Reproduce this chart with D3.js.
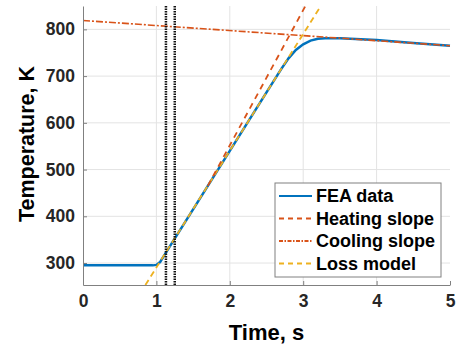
<!DOCTYPE html>
<html>
<head>
<meta charset="utf-8">
<script src="https://cdn.jsdelivr.net/npm/d3@7"></script>
<style>
  body { margin: 0; background: #fff; }
  text { font-family: "Liberation Sans", Arial, sans-serif; }
</style>
</head>
<body>
<div id="container"></div>
<script>
// FEA temperature trace (time s, temperature K)
const feaTime = [0, 0.5, 0.95, 1.0, 1.05, 1.1, 1.2, 1.5, 2.0, 2.5, 2.7, 2.8, 2.9, 3.0, 3.1, 3.2, 3.3, 3.5, 4.0, 4.5, 5.0];
const feaTemp = [295, 295, 295, 296, 302, 315, 340, 415, 540, 665, 715, 738, 756, 768, 776, 780, 781, 781, 777, 771, 765];
const heatTime = [1.7, 3.03];
const heatTemp = [465, 850];
const coolTime = [0, 5];
const coolTemp = [819, 765];
const lossTime = [0.85, 3.24];
const lossTemp = [253, 850];
const markerTimes = [1.13, 1.25];
const xTicks = [0, 1, 2, 3, 4, 5];
const yTicks = [300, 400, 500, 600, 700, 800];
const legendNames = ["FEA data", "Heating slope", "Cooling slope", "Loss model"];

const width = 456, height = 352;
const margin = { top: 6, right: 6, bot: 67, left: 83 };

const svg = d3.select("#container").append("svg")
  .attr("width", width).attr("height", height);

const xScale = d3.scaleLinear().domain([0, 5]).range([margin.left, width - margin.right]);
const yScale = d3.scaleLinear().domain([253, 850]).range([height - margin.bot, margin.top]);

// grid
svg.append("g").selectAll("line").data(xTicks.slice(1, 5)).enter().append("line")
  .attr("x1", d => xScale(d)).attr("x2", d => xScale(d))
  .attr("y1", yScale(253)).attr("y2", yScale(850))
  .attr("stroke", "#e3e3e3");
svg.append("g").selectAll("line").data(yTicks).enter().append("line")
  .attr("x1", xScale(0)).attr("x2", xScale(5))
  .attr("y1", d => yScale(d)).attr("y2", d => yScale(d))
  .attr("stroke", "#e3e3e3");

const line = d3.line().x(d => xScale(d[0])).y(d => yScale(d[1]));
const zip = (a, b) => a.map((v, i) => [v, b[i]]);

const series = [
  { name: "FEA data", data: zip(feaTime, feaTemp), color: "#0072BD", dash: null, w: 2.5 },
  { name: "Cooling slope", data: zip(coolTime, coolTemp), color: "#D95319", dash: "7,2,2,2", w: 1.6 },
  { name: "Loss model", data: zip(lossTime, lossTemp), color: "#EDB120", dash: "6,4", w: 1.8 },
  { name: "Heating slope", data: zip(heatTime, heatTemp), color: "#D95319", dash: "6,5", w: 1.8 }
];

svg.append("g").selectAll("path").data(series).enter().append("path")
  .attr("d", d => line(d.data))
  .attr("fill", "none")
  .attr("stroke", d => d.color)
  .attr("stroke-width", d => d.w)
  .attr("stroke-dasharray", d => d.dash);

// vertical markers
svg.append("g").selectAll("line").data(markerTimes).enter().append("line")
  .attr("x1", d => xScale(d)).attr("x2", d => xScale(d))
  .attr("y1", yScale(253)).attr("y2", yScale(850))
  .attr("stroke", "#111").attr("stroke-width", 2.5)
  .attr("stroke-dasharray", "1.5,1");

// axes
const xAxis = d3.axisBottom(xScale).tickValues(xTicks).tickFormat(d3.format("d"))
  .tickSizeInner(-4).tickSizeOuter(0).tickPadding(10);
const gx = svg.append("g")
  .attr("transform", "translate(0," + (height - margin.bot) + ")")
  .call(xAxis);
const yAxis = d3.axisLeft(yScale).tickValues(yTicks).tickFormat(d3.format("d"))
  .tickSizeInner(-4).tickSizeOuter(0).tickPadding(8);
const gy = svg.append("g")
  .attr("transform", "translate(" + margin.left + ",0)")
  .call(yAxis);
[gx, gy].forEach(g => {
  g.select(".domain").attr("stroke", "#808080");
  g.selectAll(".tick line").attr("stroke", "#808080");
  g.selectAll("text").attr("font-size", 17.5).attr("font-weight", "bold").attr("fill", "#262626")
    .style("font-family", "Liberation Sans, Arial, sans-serif");
});

svg.append("text")
  .text("Time, s")
  .attr("x", xScale(2.5)).attr("y", 340)
  .attr("text-anchor", "middle")
  .attr("font-size", 22).attr("font-weight", "bold");
svg.append("text")
  .text("Temperature, K")
  .attr("transform", "translate(34,144)rotate(-90)")
  .attr("text-anchor", "middle")
  .attr("font-size", 21.5).attr("font-weight", "bold");

// legend
const legend = svg.append("g").attr("transform", "translate(275,183)");
legend.append("rect")
  .attr("width", 166).attr("height", 94)
  .attr("fill", "#fff").attr("stroke", "#808080");
const legendStyle = {
  "FEA data": series[0], "Heating slope": series[3], "Cooling slope": series[1], "Loss model": series[2]
};
legendNames.forEach((n, i) => {
  const y = 13 + i * 22.5;
  const s = legendStyle[n];
  legend.append("line")
    .attr("x1", 4).attr("x2", 37).attr("y1", y).attr("y2", y)
    .attr("stroke", s.color).attr("stroke-width", n === "FEA data" ? 2 : 1.8)
    .attr("stroke-dasharray", n === "Cooling slope" ? "4,1.5,1.5,1.5" : s.dash ? "5,4" : null);
  legend.append("text")
    .text(n)
    .attr("x", 41).attr("y", y + 6)
    .attr("font-size", 18).attr("font-weight", "bold");
});
</script>
</body>
</html>
